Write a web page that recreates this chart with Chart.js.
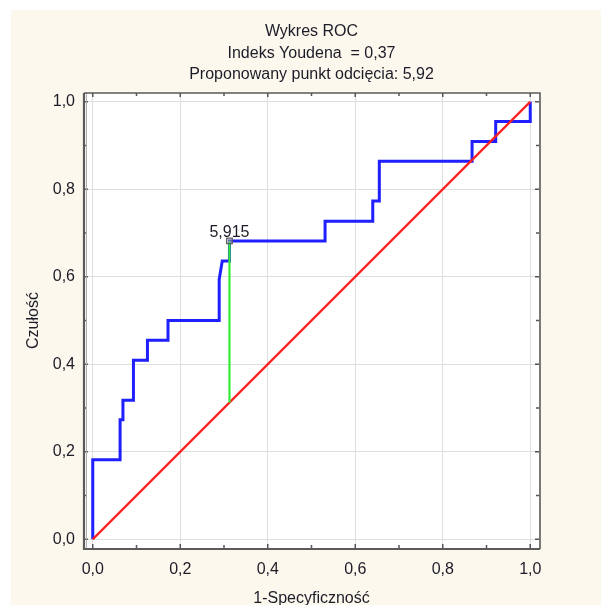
<!DOCTYPE html>
<html>
<head>
<meta charset="utf-8">
<script src="https://cdn.jsdelivr.net/npm/chart.js@4.4.1/dist/chart.umd.min.js"></script>
<style>
  html, body { margin: 0; padding: 0; background: #ffffff; }
  canvas { display: block; }
</style>
</head>
<body>
<canvas id="roc" width="601" height="605"></canvas>
<script>
// Chart text
const titleLines = ['Wykres ROC', 'Indeks Youdena  = 0,37', 'Proponowany punkt odcięcia: 5,92'];
const xAxisTitle = '1-Specyficzność';
const yAxisTitle = 'Czułość';
const tickValues = [0, 0.2, 0.4, 0.6, 0.8, 1.0];
const tickLabels = ['0,0', '0,2', '0,4', '0,6', '0,8', '1,0'];

// ROC curve corners: 1-specificity and sensitivity
const rocFpr = [0, 0, 0.0625, 0.0625, 0.069, 0.069, 0.093, 0.093, 0.125, 0.125, 0.172, 0.172,
                0.289, 0.289, 0.296, 0.3125, 0.3125, 0.531, 0.531, 0.640, 0.640, 0.655, 0.655,
                0.867, 0.867, 0.921, 0.921, 1.0, 1.0];
const rocTpr = [0, 0.182, 0.182, 0.273, 0.273, 0.318, 0.318, 0.409, 0.409, 0.455, 0.455, 0.5,
                0.5, 0.594, 0.636, 0.636, 0.682, 0.682, 0.727, 0.727, 0.773, 0.773, 0.864,
                0.864, 0.909, 0.909, 0.955, 0.955, 1.0];

// Reference (chance) line
const diagFpr = [0, 1];
const diagTpr = [0, 1];

// Youden index segment at the proposed cut-off
const cutoffFpr = [0.3125, 0.3125];
const cutoffTpr = [0.3125, 0.682];
const cutoffPointFpr = [0.3125];
const cutoffPointTpr = [0.682];
const cutoffLabel = '5,915';

const toPoints = (xs, ys) => xs.map((x, i) => ({ x: x, y: ys[i] }));

const FONT = "'Liberation Sans', Arial, Helvetica, sans-serif";
const TEXT = '#1c1c28';
const PLOT_MIN = -0.02, PLOT_MAX = 1.02;

// Page background, white plot area, frame with inward ticks, point label
const decorations = {
  id: 'decorations',
  beforeDraw(chart) {
    const { ctx, chartArea: a } = chart;
    ctx.save();
    ctx.fillStyle = '#ffffff';
    ctx.fillRect(0, 0, chart.width, chart.height);
    ctx.fillStyle = '#fcf8ed';
    ctx.fillRect(11, 10, chart.width - 11, chart.height - 10);
    ctx.fillStyle = '#ffffff';
    ctx.fillRect(a.left, a.top, a.right - a.left, a.bottom - a.top);
    ctx.restore();
  },
  afterDatasetsDraw(chart) {
    const { ctx, chartArea: a, scales } = chart;
    const xs = scales.x, ys = scales.y;
    ctx.save();
    // inward tick marks every 0.1 on all four sides
    ctx.strokeStyle = '#555555';
    ctx.lineWidth = 1.5;
    ctx.beginPath();
    for (let i = 0; i <= 10; i++) {
      const v = i / 10;
      const len = (i % 2 === 0) ? 4 : 3;
      const px = xs.getPixelForValue(v);
      const py = ys.getPixelForValue(v);
      ctx.moveTo(px, a.bottom); ctx.lineTo(px, a.bottom - len);
      ctx.moveTo(px, a.top); ctx.lineTo(px, a.top + len);
      ctx.moveTo(a.left, py); ctx.lineTo(a.left + len, py);
      ctx.moveTo(a.right, py); ctx.lineTo(a.right - len, py);
    }
    ctx.stroke();
    // frame
    ctx.strokeStyle = '#b0b0b0';
    ctx.lineWidth = 1;
    ctx.beginPath();
    ctx.moveTo(a.left + 2.5, a.top); ctx.lineTo(a.left + 2.5, a.bottom);
    ctx.stroke();
    ctx.strokeStyle = '#5a5a5a';
    ctx.lineWidth = 2.2;
    ctx.beginPath();
    ctx.moveTo(a.left, a.top); ctx.lineTo(a.left, a.bottom + 1);
    ctx.lineTo(a.right + 1, a.bottom + 1);
    ctx.stroke();
    ctx.lineWidth = 1.6;
    ctx.beginPath();
    ctx.moveTo(a.left, a.top); ctx.lineTo(a.right + 1, a.top); ctx.lineTo(a.right + 1, a.bottom + 1);
    ctx.stroke();
    // cut-off value label above its marker
    const meta = chart.getDatasetMeta(0);
    const pt = meta.data[0];
    ctx.fillStyle = TEXT;
    ctx.font = '16px ' + FONT;
    ctx.textAlign = 'center';
    ctx.textBaseline = 'middle';
    ctx.fillText(cutoffLabel, pt.x, pt.y - 8);
    ctx.restore();
  }
};

Chart.defaults.font.family = FONT;
Chart.defaults.color = TEXT;

new Chart(document.getElementById('roc'), {
  type: 'scatter',
  data: {
    datasets: [
      {
        label: 'cut-off',
        data: toPoints(cutoffPointFpr, cutoffPointTpr),
        pointStyle: 'rect',
        pointRadius: 4,
        backgroundColor: 'rgba(170,170,170,0.45)',
        borderColor: '#5e5e5e',
        borderWidth: 1.2,
        showLine: false
      },
      {
        label: 'Youden',
        data: toPoints(cutoffFpr, cutoffTpr),
        showLine: true,
        borderColor: '#33ec33',
        borderWidth: 2.2,
        pointRadius: 0,
        tension: 0
      },
      {
        label: 'diagonal',
        data: toPoints(diagFpr, diagTpr),
        showLine: true,
        borderColor: '#ff1e1e',
        borderWidth: 2.4,
        pointRadius: 0,
        tension: 0
      },
      {
        label: 'ROC',
        data: toPoints(rocFpr, rocTpr),
        showLine: true,
        borderColor: '#1f1fff',
        borderWidth: 3,
        pointRadius: 0,
        tension: 0,
        borderJoinStyle: 'miter'
      }
    ]
  },
  options: {
    responsive: false,
    animation: false,
    devicePixelRatio: 1,
    events: [],
    layout: { padding: { left: 0, right: 62, top: 10, bottom: 0 } },
    plugins: {
      legend: { display: false },
      tooltip: { enabled: false },
      title: {
        display: true,
        fullSize: false,
        text: titleLines,
        color: TEXT,
        font: { size: 16, weight: 'normal', lineHeight: 1.344 },
        padding: { top: 11, bottom: 7.5 }
      }
    },
    scales: {
      x: {
        type: 'linear',
        min: PLOT_MIN,
        max: PLOT_MAX,
        afterFit(scale) { scale.height = 57; },
        afterBuildTicks(scale) { scale.ticks = tickValues.map(v => ({ value: v })); },
        ticks: {
          padding: 12,
          font: { size: 16 },
          color: TEXT,
          maxRotation: 0,
          callback: (v, i) => tickLabels[i]
        },
        grid: { color: '#dedede', lineWidth: 1, drawTicks: false },
        border: { display: false },
        title: {
          display: true,
          text: xAxisTitle,
          color: TEXT,
          font: { size: 16 },
          padding: { top: 0, bottom: -3 }
        }
      },
      y: {
        type: 'linear',
        min: PLOT_MIN,
        max: PLOT_MAX,
        afterFit(scale) { scale.width = 84; },
        afterBuildTicks(scale) { scale.ticks = tickValues.map(v => ({ value: v })); },
        ticks: {
          padding: 9,
          font: { size: 16 },
          color: TEXT,
          callback: (v, i) => tickLabels[i]
        },
        grid: { color: '#dedede', lineWidth: 1, drawTicks: false },
        border: { display: false },
        title: {
          display: true,
          text: yAxisTitle,
          color: TEXT,
          font: { size: 16 },
          padding: { top: 24, bottom: 0 }
        }
      }
    }
  },
  plugins: [decorations]
});
</script>
</body>
</html>
